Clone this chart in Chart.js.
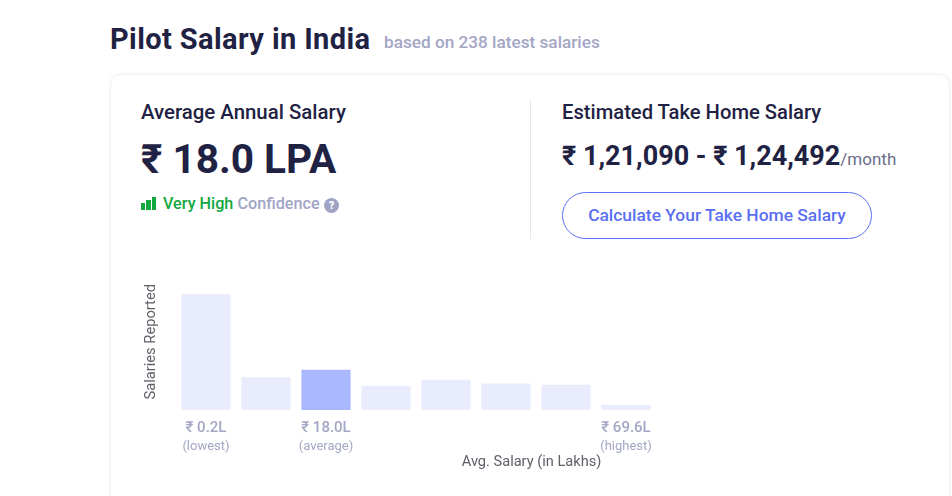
<!DOCTYPE html>
<html>
<head>
<meta charset="utf-8">
<script src="https://cdn.jsdelivr.net/npm/chart.js@4"></script>
<style>
  html, body { margin: 0; padding: 0; background: #fff; overflow: hidden; }
  body { width: 952px; height: 496px; position: relative; font-family: Roboto, "Noto Sans", sans-serif; color: #1f2243; }
  .t { position: absolute; white-space: nowrap; line-height: 1; }
  .card { position: absolute; left: 110px; top: 74px; width: 840px; height: 440px; border: 1px solid #edf1f8; border-radius: 10px; box-sizing: border-box; box-shadow: 0 0 5px rgba(120,140,200,.06); }
  .divider { position: absolute; left: 530px; top: 100px; width: 1px; height: 139px; background: #e4e7f1; }
  .btn { position: absolute; left: 562px; top: 192px; width: 310px; height: 47px; border: 1px solid #5b72f5; border-radius: 24px; box-sizing: border-box;
         color: #5b6ff2; font-size: 17.4px; font-weight: 500; text-align: center; line-height: 45px; }
  .conf { position: absolute; left: 141px; top: 197px; width: 15px; height: 13px; display: flex; align-items: flex-end; gap: 1px; }
  .conf i { flex: 1; background: #12a83f; display: block; }
  .help { position: absolute; left: 324px; top: 198px; width: 15px; height: 15px; border-radius: 50%; background: #a0a4c4; color: #fff; font-size: 11px; font-weight: 900; text-align: center; line-height: 15px; }
  #chartWrap { position: absolute; left: 130px; top: 284px; width: 526px; height: 196px; }
</style>
</head>
<body>
<div class="t" style="left:110px;top:25px;font-size:29px;font-weight:700;letter-spacing:.4px;">Pilot Salary in India</div>
<div class="t" style="left:384px;top:34px;font-size:17.2px;font-weight:500;color:#a3a6c4;">based on 238 latest salaries</div>

<div class="card"></div>
<div class="divider"></div>

<div class="t" style="left:141px;top:102px;font-size:20.4px;font-weight:500;">Average Annual Salary</div>
<div class="t" style="left:141px;top:139px;font-size:40.6px;font-weight:700;">₹ 18.0 LPA</div>

<div class="conf"><i style="height:7px"></i><i style="height:10px"></i><i style="height:13px"></i></div>
<div class="t" style="left:163px;top:196px;font-size:16.2px;font-weight:500;"><span style="color:#12a83f">Very High</span> <span style="color:#a0a4c4">Confidence</span></div>
<div class="help">?</div>

<div class="t" style="left:562px;top:102px;font-size:20.2px;font-weight:500;">Estimated Take Home Salary</div>
<div class="t" style="left:562px;top:143px;font-size:27px;font-weight:700;">₹ 1,21,090 - ₹ 1,24,492<span style="font-size:17px;font-weight:400;color:#6b6d8a">/month</span></div>
<div class="btn">Calculate Your Take Home Salary</div>

<div id="chartWrap"><canvas id="salaryChart"></canvas></div>

<script>
// values (bar heights, scaled so they add up to the 238 salaries)
const priceLabels = ['₹ 0.2L', '', '₹ 18.0L', '', '', '', '', '₹ 69.6L'];
const noteLabels = ['(lowest)', '', '(average)', '', '', '', '', '(highest)'];
const salaryCounts = [92, 26, 32, 19, 24, 21, 20, 4];
const averageIndex = 2;
const yAxisTitle = 'Salaries Reported';
const xAxisTitle = 'Avg. Salary (in Lakhs)';

const FONT = 'Roboto, "Noto Sans", sans-serif';

// second line under the ticks and the off-centre x title, both placed from the x scale
const axisNotes = {
  id: 'axisNotes',
  afterDraw(chart) {
    const { ctx, chartArea, scales: { x } } = chart;
    ctx.save();
    ctx.textAlign = 'center';
    ctx.textBaseline = 'middle';
    ctx.font = '13px ' + FONT;
    ctx.fillStyle = '#a3a6c4';
    noteLabels.forEach((note, i) => {
      if (note) ctx.fillText(note, x.getPixelForValue(i), chartArea.bottom + 37);
    });
    ctx.font = '14.6px ' + FONT;
    ctx.fillStyle = '#5f6068';
    ctx.fillText(xAxisTitle, x.getPixelForValue(5.425), chartArea.bottom + 52);
    ctx.restore();
  }
};

new Chart(document.getElementById('salaryChart').getContext('2d'), {
  type: 'bar',
  data: {
    labels: priceLabels,
    datasets: [{
      data: salaryCounts,
      backgroundColor: salaryCounts.map((_, i) => i === averageIndex ? '#aab8ff' : '#e9ecfd'),
      categoryPercentage: 1,
      barPercentage: 0.82
    }]
  },
  options: {
    responsive: true,
    maintainAspectRatio: false,
    animation: false,
    layout: { padding: 0 },
    plugins: { legend: { display: false }, tooltip: { enabled: false } },
    scales: {
      x: {
        grid: { display: false, drawTicks: false },
        border: { display: false },
        // tick labels must not shrink the plot width, bars sit on a fixed 60px pitch
        afterFit(s) { s.height = 70; s.paddingLeft = 0; s.paddingRight = 0; },
        ticks: {
          autoSkip: false, maxRotation: 0, minRotation: 0, padding: 9,
          color: '#a3a6c4',
          font: { family: FONT, size: 15, weight: '500' }
        }
      },
      y: {
        min: 0,
        max: 100,
        grid: { display: false, drawTicks: false },
        border: { display: false },
        ticks: { display: false },
        afterFit(s) { s.width = 46; },
        title: {
          display: true,
          text: yAxisTitle,
          align: 'end',
          color: '#5f6068',
          padding: { top: 13, bottom: 0 },
          font: { family: FONT, size: 14.7 }
        }
      }
    }
  },
  plugins: [axisNotes]
});
</script>
</body>
</html>
